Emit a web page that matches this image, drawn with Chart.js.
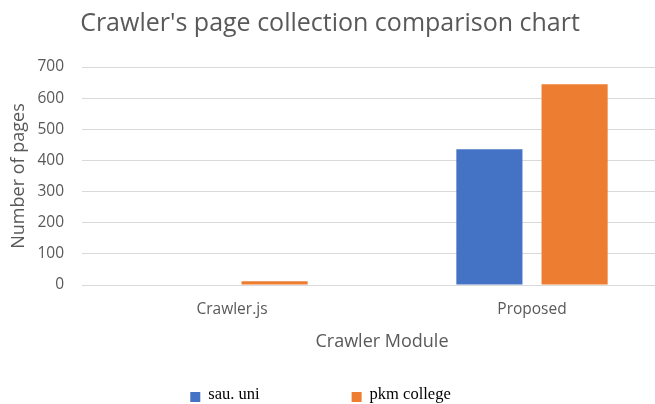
<!DOCTYPE html>
<html>
<head>
<meta charset="utf-8">
<script src="https://cdn.jsdelivr.net/npm/chart.js@4/dist/chart.umd.min.js"></script>
<style>
  html, body { margin: 0; padding: 0; background: #ffffff; overflow: hidden; }
  #wrap { width: 655px; height: 404px; position: relative; overflow: hidden; }
  #c { display: block; }
</style>
</head>
<body>
<div id="wrap"><canvas id="c" width="682" height="404"></canvas></div>
<script>
const categories = ['Crawler.js', 'Proposed'];
const seriesNames = ['sau. uni', 'pkm college'];
const sauUni = [0, 436];
const pkmCollege = [12, 645];
const yTicks = [0, 100, 200, 300, 400, 500, 600, 700];
const colors = ['#4472C4', '#ED7D31'];

const TEXT = '#595959';
const SANS = "'Open Sans', 'Noto Sans', sans-serif";

const legendPlugin = {
  id: 'customLegend',
  afterDraw(chart) {
    const ctx = chart.ctx;
    ctx.save();
    ctx.font = "16.5px 'Liberation Serif', 'Times New Roman', serif";
    ctx.textBaseline = 'middle';
    ctx.textAlign = 'left';
    const box = 10, gapBox = 8, gapItem = 92;
    const items = chart.data.datasets.map(d => ({ text: d.label, color: d.backgroundColor, w: ctx.measureText(d.label).width }));
    let total = 0;
    items.forEach((it, i) => { total += box + gapBox + it.w + (i < items.length - 1 ? gapItem : 0); });
    const t = chart.titleBlock;
    const cx = (t.left + t.right) / 2;
    let x = cx - total / 2 - 9.5;
    const y = 395;
    items.forEach(it => {
      ctx.fillStyle = it.color;
      ctx.fillRect(x, y - box / 2 + 2, box, box);
      x += box + gapBox;
      ctx.fillStyle = '#000000';
      ctx.fillText(it.text, x, y);
      x += it.w + gapItem;
    });
    ctx.restore();
  }
};

new Chart(document.getElementById('c'), {
  type: 'bar',
  data: {
    labels: categories,
    datasets: [
      { label: seriesNames[0], data: sauUni, backgroundColor: colors[0], categoryPercentage: 0.568, barPercentage: 0.776 },
      { label: seriesNames[1], data: pkmCollege, backgroundColor: colors[1], categoryPercentage: 0.568, barPercentage: 0.776 }
    ]
  },
  plugins: [legendPlugin],
  options: {
    responsive: false,
    animation: false,
    devicePixelRatio: 1,
    layout: { padding: { left: -22, right: 0, top: 0, bottom: 51 } },
    plugins: {
      legend: { display: false },
      tooltip: { enabled: false },
      title: {
        display: true,
        text: "Crawler's page collection comparison chart",
        color: TEXT,
        font: { family: SANS, size: 25, weight: 'normal' },
        padding: { top: 9, bottom: 28 }
      }
    },
    scales: {
      x: {
        grid: { display: false, drawTicks: false },
        border: { display: false },
        afterFit: s => { s.height = 68; },
        ticks: {
          color: TEXT,
          font: { family: SANS, size: 15.5 },
          padding: 15.5,
          maxRotation: 0
        },
        title: {
          display: true,
          text: 'Crawler Module',
          color: TEXT,
          font: { family: SANS, size: 18 },
          padding: { top: 0, bottom: 0 }
        }
      },
      y: {
        min: 0,
        max: 700,
        afterBuildTicks: s => { s.ticks = yTicks.map(v => ({ value: v })); },
        afterFit: s => { s.width = 104; },
        grid: { color: '#D9D9D9', lineWidth: 1, drawTicks: false },
        border: { display: false },
        ticks: {
          color: TEXT,
          font: { family: SANS, size: 15.5 },
          padding: 18
        },
        title: {
          display: true,
          text: 'Number of pages',
          color: TEXT,
          font: { family: SANS, size: 18 },
          padding: { top: 30, bottom: 0 }
        }
      }
    }
  }
});
</script>
</body>
</html>
